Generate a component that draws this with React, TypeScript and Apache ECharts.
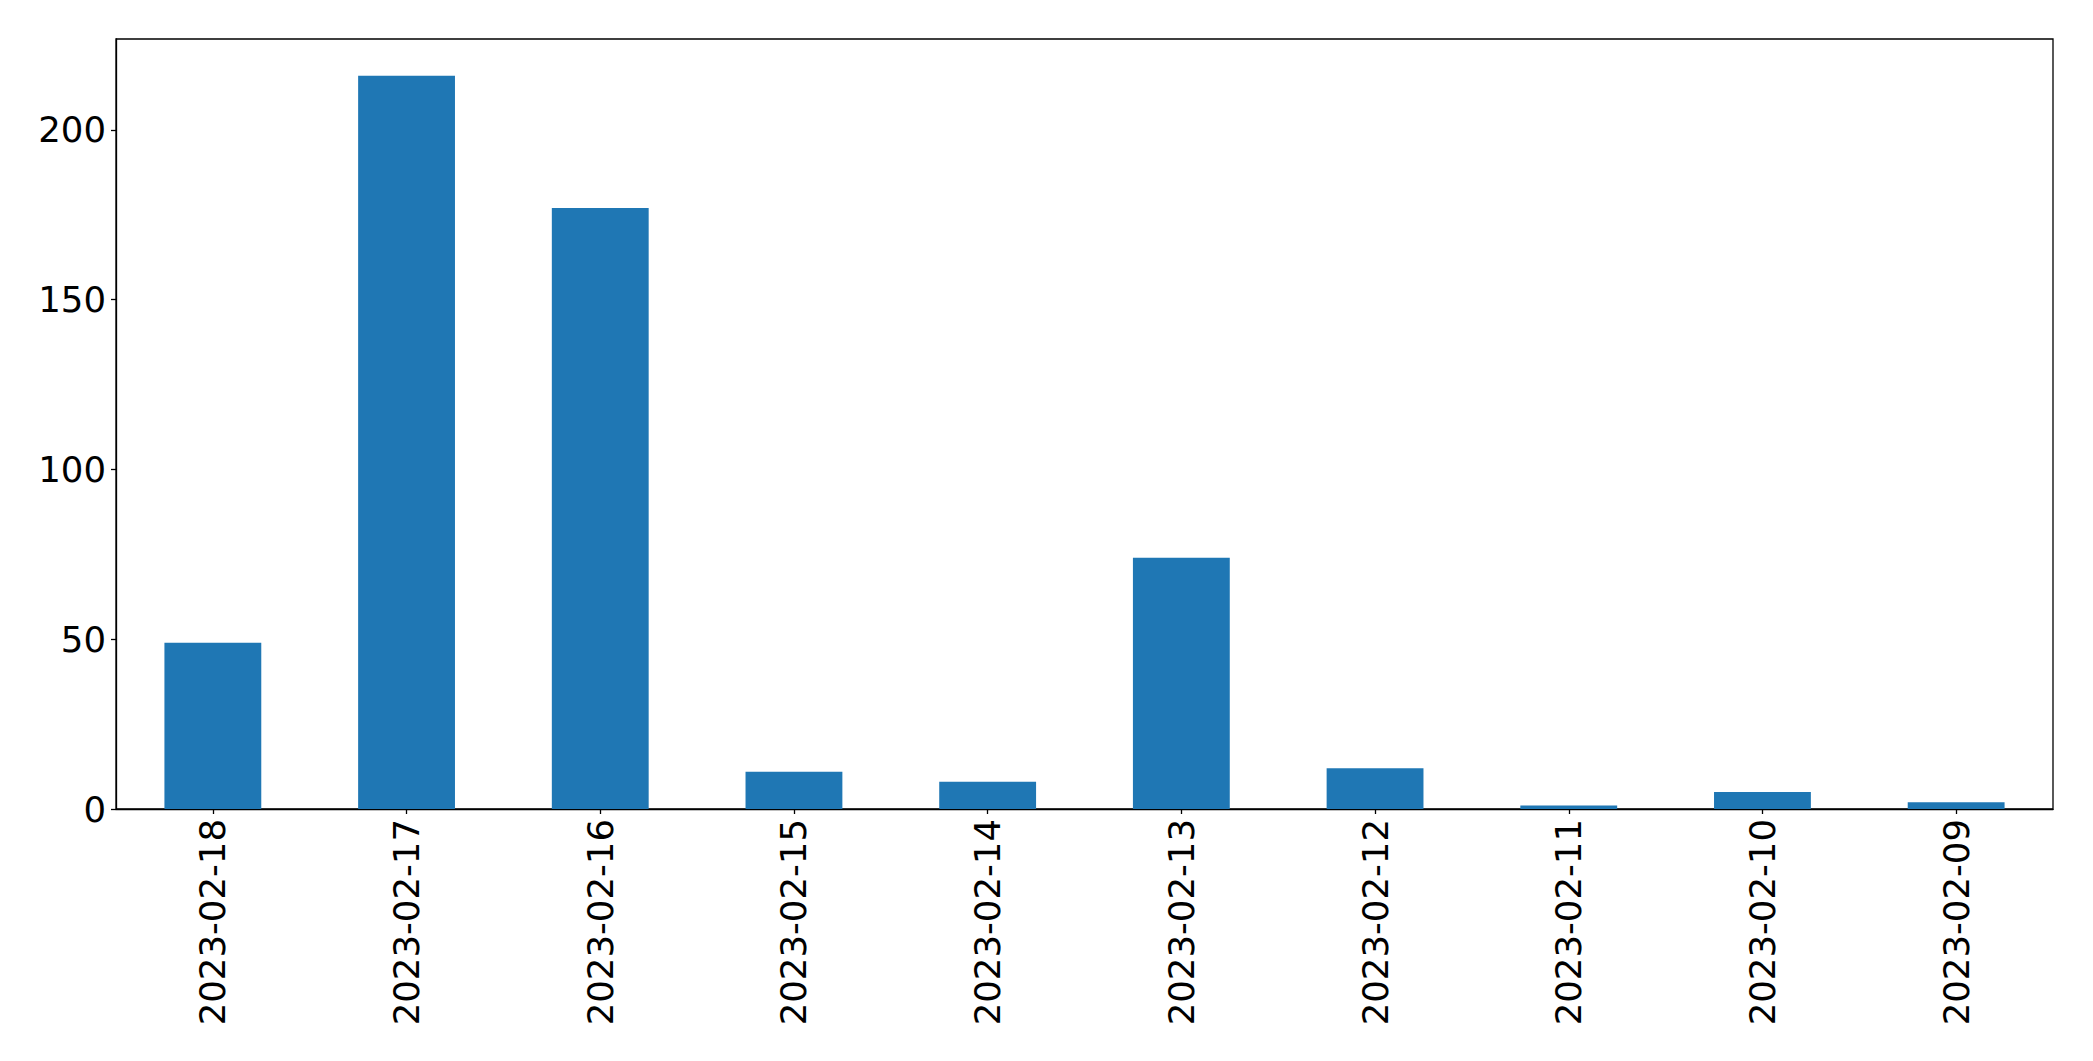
import React, { useEffect, useRef } from "react";
import * as echarts from "echarts";

const categories = [
  "2023-02-18",
  "2023-02-17",
  "2023-02-16",
  "2023-02-15",
  "2023-02-14",
  "2023-02-13",
  "2023-02-12",
  "2023-02-11",
  "2023-02-10",
  "2023-02-09",
];
const values = [49, 216, 177, 11, 8, 74, 12, 1, 5, 2];
const yTicks = [0, 50, 100, 150, 200];
const yMax = 226.8;

export default function App() {
  const ref = useRef<HTMLDivElement>(null);
  useEffect(() => {
    document.body.style.margin = "0";
    const chart = echarts.init(ref.current!, null, { renderer: "svg" });
    const font = "DejaVu Sans";
    chart.setOption({
      animation: false,
      backgroundColor: "#ffffff",
      textStyle: { fontFamily: font },
      grid: {
        left: 116,
        right: 40,
        top: 39,
        bottom: 252,
        show: true,
        borderColor: "#000000",
        borderWidth: 1.3,
        backgroundColor: "transparent",
      },
      xAxis: {
        type: "category",
        data: categories,
        axisLine: { show: true, lineStyle: { color: "#000000", width: 1.3 } },
        axisTick: {
          show: true,
          alignWithLabel: true,
          length: 5,
          lineStyle: { color: "#000000", width: 1.3 },
        },
        axisLabel: {
          rotate: 90,
          interval: 0,
          fontSize: 35.5,
          color: "#000000",
          fontFamily: font,
          margin: 10,
        },
        splitLine: { show: false },
      },
      yAxis: {
        type: "value",
        min: 0,
        max: yMax,
        interval: 50,
        axisLine: { show: true, lineStyle: { color: "#000000", width: 1.3 } },
        axisTick: {
          show: true,
          length: 5,
          lineStyle: { color: "#000000", width: 1.3 },
          customValues: yTicks,
        },
        axisLabel: {
          fontSize: 35.5,
          color: "#000000",
          fontFamily: font,
          margin: 10,
          customValues: yTicks,
        },
        splitLine: { show: false },
      },
      series: [
        {
          type: "bar",
          data: values,
          barCategoryGap: "50%",
          itemStyle: { color: "#1f77b4" },
        },
      ],
    });
    return () => chart.dispose();
  }, []);
  return (
    <div
      ref={ref}
      style={{ position: "fixed", left: 0, top: 0, width: 2093, height: 1061 }}
    />
  );
}
